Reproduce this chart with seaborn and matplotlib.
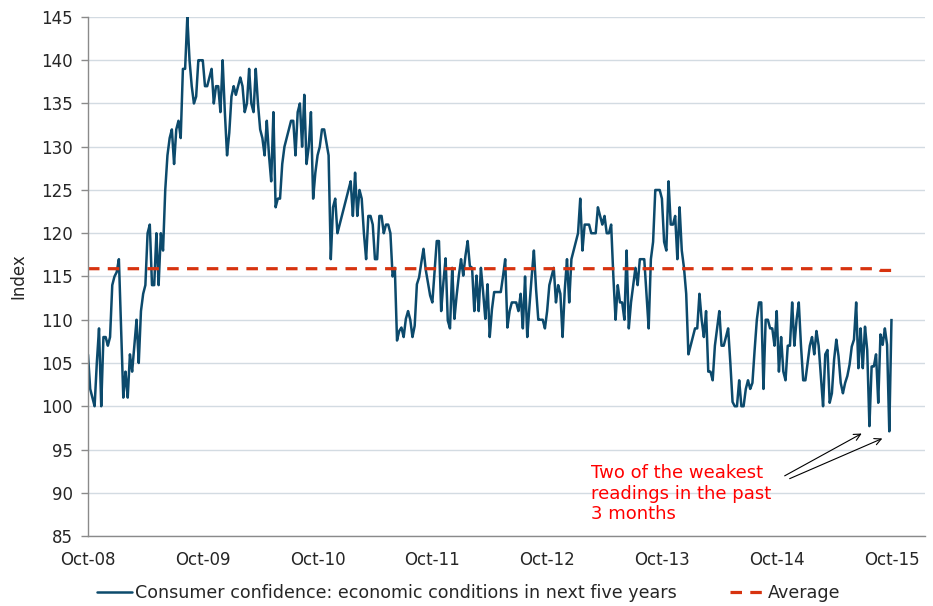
"""
Consumer confidence: economic conditions in next five years (weekly index)
Recreated with seaborn/matplotlib.
"""
import pandas as pd
import matplotlib
matplotlib.use("Agg")
import matplotlib.pyplot as plt
from matplotlib.lines import Line2D
import seaborn as sns

# ----------------------------------------------------
# Data (weekly readings, Oct-08 .. Oct-15)
# ----------------------------------------------------
year_labels = ["Oct-08", "Oct-09", "Oct-10", "Oct-11", "Oct-12", "Oct-13", "Oct-14", "Oct-15"]
weeks_per_year = 52

confidence_0809 = [106, 102, 101, 100, 105, 109, 100, 108, 108, 107, 108, 114, 115, 115.5, 117,
                   109, 101, 104, 101, 106, 104, 107, 110, 105, 111, 113, 114, 120, 121, 114,
                   114, 120, 114, 120, 118, 125, 129, 131, 132, 128, 132, 133, 131, 139, 139,
                   145, 140, 137, 135]
confidence_0910 = [135.8, 140, 140, 140, 137, 137, 138, 139, 135, 137, 137, 134, 140, 134, 129,
                   131.6, 135.8, 137, 136, 137, 138, 137, 134, 135, 139, 135, 134, 139, 135, 132,
                   131, 129, 133, 129, 126, 134, 123, 124, 124, 128, 130, 131, 132, 133, 133,
                   129, 134, 135]
confidence_1011 = [130, 136, 128, 130, 134, 124, 127, 129, 130, 132, 132, 130.5, 129, 117, 123,
                   124, 120, 121, 122, 123, 124, 125, 126, 122, 127, 122, 125, 124, 120, 117,
                   122, 122, 121, 117, 117, 122, 122, 120, 121, 121, 120, 115, 116, 107.6]
confidence_1112 = [108.7, 109.1, 108, 110.1, 111, 110, 108, 109.3, 114.1, 114.9, 116.6, 118.2,
                   115.8, 114.3, 112.8, 112, 115.5, 119.1, 119.1, 111, 114.3, 117.1, 109.9, 109,
                   116, 110.1, 112.8, 115.1, 117, 115.1, 117.4, 119.1, 116.2, 116, 111, 115.1,
                   111, 116, 113.2, 110.1, 114.1, 108, 111.2, 113.2, 113.2, 113.2, 113.2, 115,
                   117, 109.1, 111]
confidence_1213 = [112, 112, 112, 111, 113, 109, 115, 108, 111.6, 115, 118, 113.5, 110, 110, 110,
                   109, 111, 114, 115, 116, 112, 114, 113, 108, 113.5, 117, 112, 117, 118, 119,
                   120, 124, 118, 121, 121, 121, 120, 120, 120, 123, 122, 121, 122, 120, 120,
                   121, 115]
confidence_1314 = [110, 114, 112, 112, 110, 118, 109, 112, 114, 116, 114, 117, 117, 117, 113,
                   109, 117, 119, 125, 125, 125, 124, 119, 118, 126, 121, 121, 122, 117, 123,
                   118, 116, 113, 106, 107, 108, 109, 109, 113, 110, 108, 111, 104, 104, 103,
                   107, 109, 111]
confidence_1415 = [107, 107, 108, 109, 105, 100.5, 100, 100, 103, 100, 100, 102, 103, 102, 102.7,
                   106.5, 110, 112, 112, 102, 110, 110, 109, 109, 107, 111, 104, 108, 104, 103,
                   107, 107, 112, 107, 110, 112, 107, 103, 103, 105, 107, 108, 106, 108.7,
                   107, 103.5, 100, 106, 106.5, 100.4, 101.5, 105.4, 107.7, 105.8, 102.7, 101.5,
                   102.7, 103.5, 104.8, 106.9, 107.7, 112, 104.4, 109, 104.4, 109.2, 106.5, 97.7,
                   104.6, 104.6, 106, 100.4, 108.3, 107.1, 109, 107.1, 97.1, 110.1]

average_level = 115.9
average_latest = 115.7
average_latest_weeks = 6

confidence = (confidence_0809 + confidence_0910 + confidence_1011 + confidence_1112
              + confidence_1213 + confidence_1314 + confidence_1415)
n_weeks = len(confidence)
average = [average_level] * (n_weeks - average_latest_weeks) + [average_latest] * average_latest_weeks

series_main = "Consumer confidence: economic conditions in next five years"
series_avg = "Average"

df = pd.DataFrame({
    "week": list(range(n_weeks)) * 2,
    "value": confidence + average,
    "series": [series_main] * n_weeks + [series_avg] * n_weeks,
})


def main():
    sns.set_theme(style="white")
    plt.rcParams["font.family"] = ["DejaVu Sans"]

    line_col = "#0c4a6c"
    avg_col = "#d7330f"
    grey = "#8a8a8a"

    fig, ax = plt.subplots(figsize=(9.33, 6.06), dpi=100)
    fig.subplots_adjust(left=0.0943, right=0.991, top=0.972, bottom=0.1155)

    sns.lineplot(data=df, x="week", y="value", hue="series", style="series",
                 palette=[line_col, avg_col], dashes=[(1, 0), (3.6, 2.6)],
                 linewidth=1.8, ax=ax, legend=False)
    # thicker dashes for the average
    ax.lines[1].set_linewidth(2.3)

    ax.set_xlim(0, 379)
    ax.set_ylim(85, 145)
    ax.set_xticks([i * weeks_per_year for i in range(len(year_labels))])
    ax.set_xticklabels(year_labels)
    ax.set_yticks(range(85, 146, 5))

    ax.yaxis.grid(True, color="#d3dbe2", linewidth=1.0)
    ax.xaxis.grid(False)
    ax.set_axisbelow(True)
    for side in ["top", "right"]:
        ax.spines[side].set_visible(False)
    for side in ["left", "bottom"]:
        ax.spines[side].set_color(grey)
        ax.spines[side].set_linewidth(1.0)

    ax.tick_params(axis="y", length=5, width=1, color=grey, pad=6, labelsize=12, left=True)
    ax.tick_params(axis="x", length=0, pad=11, labelsize=12)
    ax.set_xlabel("")
    ax.set_ylabel("Index", fontsize=12)
    ax.yaxis.set_label_coords(-0.072, 0.5)

    # annotation for the two recent lows
    ax.text(228, 89.9, "Two of the weakest\nreadings in the past\n3 months",
            color="#ff0000", fontsize=13, va="center", ha="left", linespacing=1.2)
    ax.annotate("", xy=(351.6, 97.0), xytext=(314.5, 91.8),
                arrowprops=dict(arrowstyle="->", color="black", lw=0.8))
    ax.annotate("", xy=(361.0, 96.4), xytext=(316.7, 91.5),
                arrowprops=dict(arrowstyle="->", color="black", lw=0.8))

    handles = [Line2D([], [], color=line_col, lw=1.8),
               Line2D([], [], color=avg_col, lw=2.3, dashes=(3.6, 2.6))]
    ax.legend(handles, [series_main, series_avg],
              loc="center", bbox_to_anchor=(0.455, -0.11), ncol=2, frameon=False,
              fontsize=12.6, handlelength=2.0, handletextpad=0.2, columnspacing=3.0)

    fig.savefig("out.png", dpi=100)
    plt.close(fig)


if __name__ == "__main__":
    main()
